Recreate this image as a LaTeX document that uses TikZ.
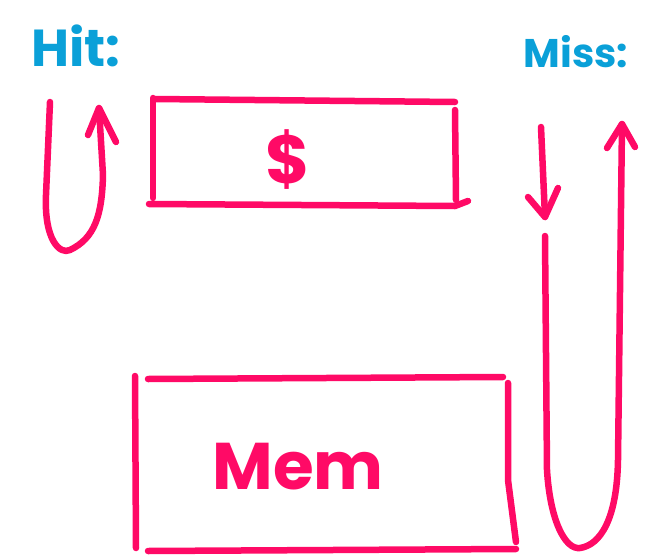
\documentclass[tikz,border=0pt]{standalone}
\usepackage{fontspec}
\setmainfont{Poppins}
\definecolor{inkpink}{HTML}{FF0A66}
\definecolor{inkblue}{HTML}{0AA0D8}
\begin{document}
\begin{tikzpicture}[x=1pt,y=-1pt,
  stroke/.style={draw=inkpink,line width=6.5pt,line cap=round,line join=round},
  label/.style={text=inkblue,font=\fontsize{#1}{#1}\selectfont\bfseries},
  boxtext/.style={text=inkpink,font=\fontsize{#1}{#1}\selectfont\bfseries}]
\useasboundingbox (0,0) rectangle (649,555);
% labels
\node[label=52] (hit) at (76,46) {Hit:};
\node[label=40] (miss) at (576,52) {Miss:};
% cache box
\draw[stroke] (155,99) -- (455,102);
\draw[stroke] (149,204) -- (455,206) -- (468,201);
\draw[stroke] (153,98) -- (153,198);
\draw[stroke] (455,110) -- (456,200);
\node[boxtext=68] (cache) at (288,160) {\$};
% memory box
\draw[stroke] (148,379) -- (503,377);
\draw[stroke] (148,551) -- (516,549);
\draw[stroke] (135,376) -- (136,548);
\draw[stroke] (508,383) -- (508,480) -- (516,542);
\node[boxtext=66] (mem) at (298,467) {Mem};
% hit loop
\coordinate (h1) at (50,102);
\coordinate (h2) at (99,108);
\draw[stroke] (h1) -- (46,195) .. controls (44,240) and (60,255) .. (70,250)
  .. controls (95,238) and (102,215) .. (103,175) -- (h2);
\draw[stroke] (88,135) -- (h2) -- (116,142);
% miss: down arrow
\coordinate (m1) at (541,127);
\coordinate (m2) at (545,217);
\draw[stroke] (m1) -- (m2);
\draw[stroke] (528,197) -- (m2) -- (558,188);
% miss: up loop
\coordinate (m3) at (545,236);
\coordinate (m4) at (622,124);
\draw[stroke] (m3) -- (547,470) .. controls (550,520) and (565,550) .. (580,548)
  .. controls (600,545) and (617,520) .. (618,460) -- (m4);
\draw[stroke] (607,148) -- (m4) -- (635,147);
\end{tikzpicture}
\end{document}
